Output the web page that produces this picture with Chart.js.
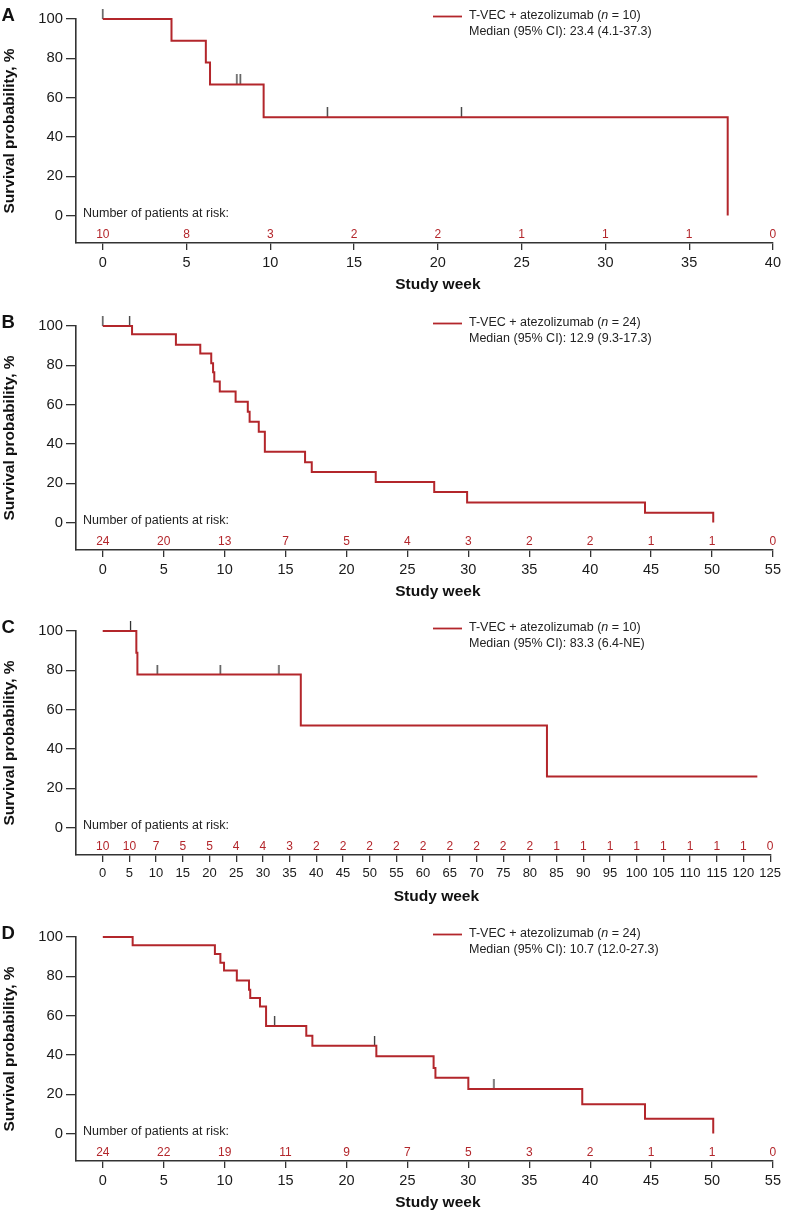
<!DOCTYPE html>
<html lang="en">
<head>
  <meta charset="UTF-8">
  <title>Kaplan-Meier: T-VEC + atezolizumab</title>
  <script src="https://cdn.jsdelivr.net/npm/chart.js"></script>
  <style>
    body {
      margin: 0;
      background: #fff;
      font-family: "Liberation Sans", Arial, sans-serif;
    }
    .panel {
      position: absolute;
      left: 0;
      width: 785px;
      height: 296px;
    }
  </style>
</head>
<body>
  <div class="panel" style="top:0px"><canvas id="chartA" width="785" height="296"></canvas></div>
  <div class="panel" style="top:307px"><canvas id="chartB" width="785" height="296"></canvas></div>
  <div class="panel" style="top:612px"><canvas id="chartC" width="785" height="296"></canvas></div>
  <div class="panel" style="top:918px"><canvas id="chartD" width="785" height="296"></canvas></div>

  <script>
    // Panel A
    const aWeeks = [0, 4.1, 6.15, 6.4, 9.6, 37.3];
    const aSurv = [100, 88.9, 77.8, 66.7, 50, 0];
    const aCensorWeeks = [0, 8.0, 8.2, 13.4, 21.4];
    const aCensorSurv = [100, 66.7, 66.7, 50, 50];
    const aTicks = [0, 5, 10, 15, 20, 25, 30, 35, 40];
    const aRisk = [10, 8, 3, 2, 2, 1, 1, 1, 0];

    // Panel B
    const bWeeks = [0, 2.4, 6.0, 8.0, 8.9, 9.05, 9.15, 9.6, 10.9, 11.9, 12.05, 12.8, 13.3, 16.6, 17.15, 22.4, 27.2, 29.9, 44.5, 50.1];
    const bSurv = [100, 95.8, 90.5, 86.0, 81.0, 76.4, 71.7, 66.7, 61.4, 56.4, 51.3, 46.2, 36.0, 30.7, 25.7, 20.6, 15.5, 10.2, 4.9, 0];
    const bCensorWeeks = [0, 2.2];
    const bCensorSurv = [100, 100];
    const bTicks = [0, 5, 10, 15, 20, 25, 30, 35, 40, 45, 50, 55];
    const bRisk = [24, 20, 13, 7, 5, 4, 3, 2, 2, 1, 1, 0];

    // Panel C
    const cWeeks = [0, 6.3, 6.5, 37.1, 83.2, 122.6];
    const cSurv = [100, 88.9, 77.8, 51.9, 25.9, 25.9];
    const cCensorWeeks = [5.2, 10.2, 22.0, 33.0];
    const cCensorSurv = [100, 77.8, 77.8, 77.8];
    const cTicks = [0, 5, 10, 15, 20, 25, 30, 35, 40, 45, 50, 55, 60, 65, 70, 75, 80, 85, 90, 95, 100, 105, 110, 115, 120, 125];
    const cRisk = [10, 10, 7, 5, 5, 4, 4, 3, 2, 2, 2, 2, 2, 2, 2, 2, 2, 1, 1, 1, 1, 1, 1, 1, 1, 0];

    // Panel D
    const dWeeks = [0, 2.45, 9.2, 9.65, 9.95, 11.0, 12.0, 12.1, 12.9, 13.4, 16.7, 17.2, 22.45, 27.15, 27.3, 30.0, 39.35, 44.5, 50.1];
    const dSurv = [100, 95.8, 91.3, 86.9, 82.9, 77.9, 73.1, 68.9, 64.6, 54.7, 49.8, 44.7, 39.3, 33.3, 28.4, 22.6, 14.9, 7.5, 0];
    const dCensorWeeks = [14.1, 22.3, 32.1];
    const dCensorSurv = [54.7, 44.7, 22.6];
    const dTicks = [0, 5, 10, 15, 20, 25, 30, 35, 40, 45, 50, 55];
    const dRisk = [24, 22, 19, 11, 9, 7, 5, 3, 2, 1, 1, 0];

    const yTicks = [0, 20, 40, 60, 80, 100];

    const FONT = '"Liberation Sans", Arial, sans-serif';
    const RED = '#b3262b';
    const AXIS = '#333';
    const TEXT = '#1a1a1a';

    Chart.defaults.font.family = FONT;
    Chart.defaults.color = TEXT;

    // censor mark: short vertical tick sitting on top of the curve
    const censorMark = document.createElement('canvas');
    censorMark.width = 3;
    censorMark.height = 20;
    const cm = censorMark.getContext('2d');
    cm.fillStyle = '#333';
    cm.fillRect(0.9, 0, 1.3, 10);

    // panel letter, legend, x title and the at-risk table
    const kmExtras = {
      id: 'kmExtras',
      afterDraw(chart, args, opts) {
        const ctx = chart.ctx;
        const area = chart.chartArea;
        const xs = chart.scales.x;
        const ys = chart.scales.y;
        ctx.save();

        ctx.fillStyle = '#111';
        ctx.font = 'bold 18.5px ' + FONT;
        ctx.textAlign = 'left';
        ctx.textBaseline = 'alphabetic';
        ctx.fillText(opts.letter, 1.5, area.top + 2);

        // x title, centred on the labelled week range
        const t0 = xs.getPixelForValue(opts.riskWeeks[0]);
        const t1 = xs.getPixelForValue(opts.riskWeeks[opts.riskWeeks.length - 1]);
        ctx.textAlign = 'center';
        ctx.textBaseline = 'middle';
        ctx.font = 'bold 15.5px ' + FONT;
        ctx.fillText('Study week', (t0 + t1) / 2, area.bottom + 41.5);

        // legend
        ctx.strokeStyle = RED;
        ctx.lineWidth = 1.8;
        ctx.beginPath();
        ctx.moveTo(433, area.top - 2.5);
        ctx.lineTo(462, area.top - 2.5);
        ctx.stroke();

        ctx.textAlign = 'left';
        ctx.fillStyle = '#222';
        let tx = 469;
        const ly = area.top - 3;
        ctx.font = '12.5px ' + FONT;
        const p1 = 'T-VEC + atezolizumab (';
        ctx.fillText(p1, tx, ly);
        tx += ctx.measureText(p1).width;
        ctx.font = 'italic 12.5px ' + FONT;
        ctx.fillText('n', tx, ly);
        tx += ctx.measureText('n').width;
        ctx.font = '12.5px ' + FONT;
        ctx.fillText(' = ' + opts.n + ')', tx, ly);
        ctx.fillText('Median (95% CI): ' + opts.median, 469, ly + 16);

        // at-risk table
        ctx.fillText('Number of patients at risk:', area.left + 7, ys.getPixelForValue(0) - 1.5);

        ctx.fillStyle = RED;
        ctx.font = '12px ' + FONT;
        ctx.textAlign = 'center';
        opts.riskWeeks.forEach((w, i) => {
          ctx.fillText(String(opts.risk[i]), xs.getPixelForValue(w), area.bottom - 8.5);
        });
        ctx.restore();
      }
    };

    function makeChart(id, p) {
      const curve = p.weeks.map((w, i) => ({ x: w, y: p.surv[i] }));
      const censors = p.censorWeeks.map((w, i) => ({ x: w, y: p.censorSurv[i] }));
      return new Chart(document.getElementById(id), {
        type: 'line',
        data: {
          datasets: [
            {
              data: curve,
              stepped: true,
              borderColor: RED,
              borderWidth: 2,
              pointRadius: 0,
              fill: false,
              clip: false
            },
            {
              data: censors,
              showLine: false,
              pointStyle: censorMark,
              pointRadius: 5,
              borderWidth: 0,
              clip: false
            }
          ]
        },
        options: {
          responsive: false,
          animation: false,
          events: [],
          layout: { padding: { top: 19, right: p.padRight, bottom: 0, left: 0 } },
          plugins: {
            legend: { display: false },
            tooltip: { enabled: false },
            kmExtras: {
              letter: p.letter,
              n: p.n,
              median: p.median,
              riskWeeks: p.ticks,
              risk: p.risk
            }
          },
          scales: {
            x: {
              type: 'linear',
              min: p.xMin,
              max: p.xMax,
              afterBuildTicks: s => { s.ticks = p.ticks.map(v => ({ value: v })); },
              afterFit: s => { s.height = 53; },
              grid: { drawOnChartArea: false, drawTicks: true, tickLength: 7, color: AXIS, lineWidth: 1.3 },
              border: { display: true, color: AXIS, width: 1.6 },
              ticks: { padding: 4, autoSkip: false, maxRotation: 0, color: TEXT, font: { size: p.xFont } }
            },
            y: {
              min: -14,
              max: 100,
              afterBuildTicks: s => { s.ticks = yTicks.map(v => ({ value: v })); },
              afterFit: s => { s.width = 76; },
              grid: { drawOnChartArea: false, drawTicks: true, tickLength: 10, color: AXIS, lineWidth: 1.3 },
              border: { display: true, color: AXIS, width: 1.6 },
              ticks: { padding: 3, color: TEXT, font: { size: 14.8 } },
              title: {
                display: true,
                text: 'Survival probability, %',
                color: '#111',
                font: { size: 15.5, weight: 'bold' },
                padding: 0
              }
            }
          }
        },
        plugins: [kmExtras]
      });
    }

    makeChart('chartA', {
      letter: 'A', n: 10, median: '23.4 (4.1-37.3)',
      weeks: aWeeks, surv: aSurv, censorWeeks: aCensorWeeks, censorSurv: aCensorSurv,
      ticks: aTicks, risk: aRisk, xMin: -1.6, xMax: 40, padRight: 10, xFont: 14.5
    });
    makeChart('chartB', {
      letter: 'B', n: 24, median: '12.9 (9.3-17.3)',
      weeks: bWeeks, surv: bSurv, censorWeeks: bCensorWeeks, censorSurv: bCensorSurv,
      ticks: bTicks, risk: bRisk, xMin: -2.2, xMax: 55, padRight: 9, xFont: 14.5
    });
    makeChart('chartC', {
      letter: 'C', n: 10, median: '83.3 (6.4-NE)',
      weeks: cWeeks, surv: cSurv, censorWeeks: cCensorWeeks, censorSurv: cCensorSurv,
      ticks: cTicks, risk: cRisk, xMin: -5, xMax: 125, padRight: 12, xFont: 13
    });
    makeChart('chartD', {
      letter: 'D', n: 24, median: '10.7 (12.0-27.3)',
      weeks: dWeeks, surv: dSurv, censorWeeks: dCensorWeeks, censorSurv: dCensorSurv,
      ticks: dTicks, risk: dRisk, xMin: -2.2, xMax: 55, padRight: 12, xFont: 14.5
    });
  </script>
</body>
</html>
